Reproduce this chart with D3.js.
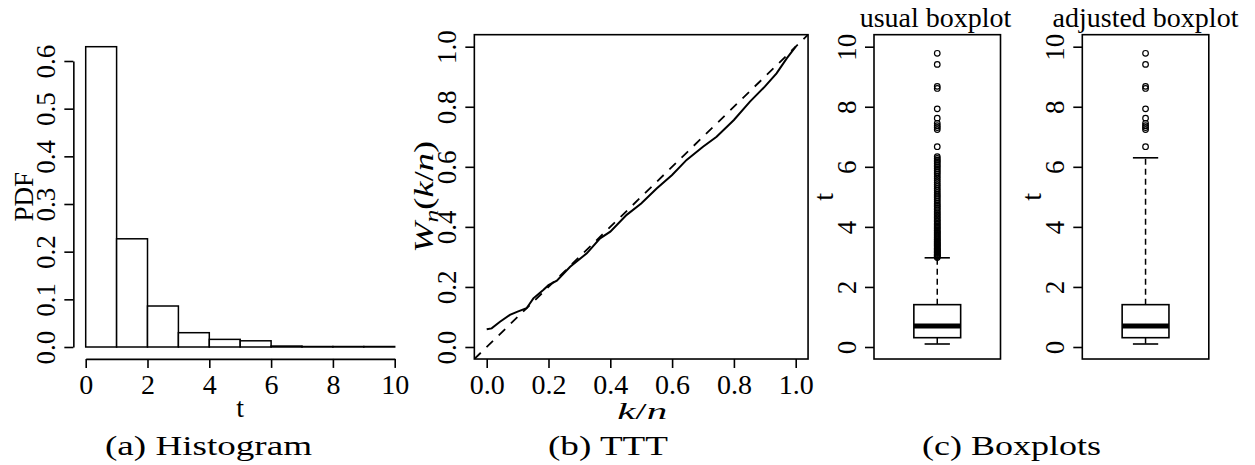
<!DOCTYPE html>
<html>
<head>
<meta charset="utf-8">
<script src="https://cdn.jsdelivr.net/npm/d3@7"></script>
<style>
body { margin: 0; background: #fff; }
</style>
</head>
<body>
<div id="chart"></div>
<script>
// (a) histogram
var hist_edges = [0, 1, 2, 3, 4, 5, 6, 7, 8, 9, 10];
var hist_density = [0.630, 0.227, 0.086, 0.030, 0.016, 0.013, 0.002, 0.001, 0.001, 0.001];
var hist_x_ticks = [0, 2, 4, 6, 8, 10];
var hist_y_ticks = [0.0, 0.1, 0.2, 0.3, 0.4, 0.5, 0.6];

// (b) TTT plot
var ttt_k = [0.000, 0.016, 0.043, 0.075, 0.100, 0.129, 0.151, 0.183, 0.200, 0.227, 0.270, 0.324, 0.367, 0.400,
             0.453, 0.500, 0.550, 0.600, 0.647, 0.700, 0.744, 0.800, 0.852, 0.900, 0.938, 0.971, 1.000];
var ttt_w = [0.059, 0.062, 0.084, 0.107, 0.118, 0.129, 0.162, 0.190, 0.206, 0.221, 0.267, 0.312, 0.362, 0.384,
             0.440, 0.478, 0.528, 0.573, 0.623, 0.667, 0.700, 0.756, 0.817, 0.867, 0.911, 0.961, 1.000];
var ttt_ticks = [0.0, 0.2, 0.4, 0.6, 0.8, 1.0];

// (c) boxplots
var box_titles = ["usual boxplot", "adjusted boxplot"];
var box_lower = [0.10, 0.10];
var box_q1 = [0.31, 0.31];
var box_median = [0.70, 0.70];
var box_q3 = [1.41, 1.41];
var box_upper = [2.97, 6.30];
var usual_outliers = [2.98, 3.01, 3.03, 3.06, 3.08, 3.11, 3.14, 3.16, 3.19, 3.22, 3.25, 3.27, 3.30, 3.34, 3.37,
  3.40, 3.43, 3.46, 3.50, 3.53, 3.57, 3.60, 3.64, 3.67, 3.71, 3.75, 3.79, 3.82, 3.86, 3.90, 3.95, 3.99, 4.03,
  4.08, 4.12, 4.17, 4.21, 4.26, 4.31, 4.36, 4.41, 4.46, 4.51, 4.57, 4.62, 4.68, 4.73, 4.79, 4.85, 4.91, 4.97,
  5.03, 5.09, 5.15, 5.22, 5.28, 5.35, 5.41, 5.48, 5.55, 5.62, 5.69, 5.76, 5.82, 5.88, 5.94, 6.00, 6.05, 6.11,
  6.17, 6.22, 6.28, 6.34, 6.67, 7.24, 7.31, 7.37, 7.45, 7.62, 7.93, 8.61, 8.68, 9.41, 9.78];
var adjusted_outliers = [6.67, 7.24, 7.31, 7.37, 7.45, 7.62, 7.93, 8.61, 8.68, 9.41, 9.78];
var box_y_ticks = [0, 2, 4, 6, 8, 10];

var captions = ["(a) Histogram", "(b) TTT", "(c) Boxplots"];

var serif = "'Liberation Serif', 'Times New Roman', Times, 'DejaVu Serif', serif";

var svg = d3.select("#chart").append("svg")
	.attr("width", 1255)
	.attr("height", 465);

var lw = 1.6;

// rotate y tick labels like R (parallel to the axis)
function rTicksLeft(g) {
	g.select(".domain").attr("stroke-width", lw);
	g.selectAll(".tick line").attr("stroke-width", lw);
	g.selectAll(".tick text")
		.attr("font-size", 27)
		.attr("x", 0).attr("y", -18).attr("dy", 0)
		.attr("text-anchor", "middle")
		.attr("transform", "rotate(-90)");
}
function rTicksBottom(g) {
	g.select(".domain").attr("stroke-width", lw);
	g.selectAll(".tick line").attr("stroke-width", lw);
	g.selectAll(".tick text")
		.attr("font-size", 28)
		.attr("y", 35).attr("dy", 0);
}

/* ---------- (a) histogram ---------- */
var hx = d3.scaleLinear().domain([0, 10]).range([85.7, 394.7]);
var hy = d3.scaleLinear().domain([0, 0.6]).range([347, 61]);

svg.append("g")
	.selectAll("rect")
	.data(hist_density)
	.enter()
	.append("rect")
	.attr("x", function(d, i) { return hx(hist_edges[i]); })
	.attr("width", function(d, i) { return hx(hist_edges[i + 1]) - hx(hist_edges[i]); })
	.attr("y", function(d) { return hy(d); })
	.attr("height", function(d) { return hy(0) - hy(d); })
	.attr("fill", "white")
	.attr("stroke", "black")
	.attr("stroke-width", 1.5);

svg.append("g")
	.attr("transform", "translate(0," + hy(-0.025) + ")")
	.call(d3.axisBottom(hx).tickValues(hist_x_ticks).tickSize(9).tickSizeOuter(0).tickFormat(d3.format("d")))
	.call(rTicksBottom);

svg.append("g")
	.attr("transform", "translate(" + hx(-0.4) + ",0)")
	.call(d3.axisLeft(hy).tickValues(hist_y_ticks).tickSize(9).tickSizeOuter(0).tickFormat(d3.format(".1f")))
	.call(rTicksLeft);

svg.append("text")
	.attr("x", hx(5)).attr("y", 417)
	.attr("text-anchor", "middle")
	.attr("font-size", 28)
	.text("t");

svg.append("text")
	.attr("transform", "translate(33," + hy(0.315) + ") rotate(-90)")
	.attr("text-anchor", "middle")
	.attr("font-size", 27)
	.text("PDF");

/* ---------- (b) TTT ---------- */
var tx = d3.scaleLinear().domain([0, 1]).range([486.7, 795.7]);
var ty = d3.scaleLinear().domain([0, 1]).range([347, 46.7]);

svg.append("defs").append("clipPath").attr("id", "ttt-clip")
	.append("rect")
	.attr("x", tx(-0.04)).attr("y", ty(1.04))
	.attr("width", tx(1.04) - tx(-0.04)).attr("height", ty(-0.04) - ty(1.04));

svg.append("line")
	.attr("clip-path", "url(#ttt-clip)")
	.attr("x1", tx(-0.04)).attr("y1", ty(-0.04))
	.attr("x2", tx(1.04)).attr("y2", ty(1.04))
	.attr("stroke", "black")
	.attr("stroke-width", 1.8)
	.attr("stroke-dasharray", "9,8");

var ttt_pts = ttt_k.map(function(k, i) { return [k, ttt_w[i]]; });
svg.append("path")
	.datum(ttt_pts)
	.attr("fill", "none")
	.attr("stroke", "black")
	.attr("stroke-width", 2)
	.attr("d", d3.line().x(function(d) { return tx(d[0]); }).y(function(d) { return ty(d[1]); }));

svg.append("rect")
	.attr("x", tx(-0.04)).attr("y", ty(1.04))
	.attr("width", tx(1.04) - tx(-0.04)).attr("height", ty(-0.04) - ty(1.04))
	.attr("fill", "none")
	.attr("stroke", "black")
	.attr("stroke-width", lw);

svg.append("g")
	.attr("transform", "translate(0," + ty(-0.04) + ")")
	.call(d3.axisBottom(tx).tickValues(ttt_ticks).tickSize(9).tickSizeOuter(0).tickFormat(d3.format(".1f")))
	.call(rTicksBottom)
	.call(function(g) { g.select(".domain").remove(); });

svg.append("g")
	.attr("transform", "translate(" + tx(-0.04) + ",0)")
	.call(d3.axisLeft(ty).tickValues(ttt_ticks).tickSize(9).tickSizeOuter(0).tickFormat(d3.format(".1f")))
	.call(rTicksLeft)
	.call(function(g) { g.select(".domain").remove(); });

var xl = svg.append("text")
	.attr("x", tx(0.5) + 1).attr("y", 419)
	.attr("text-anchor", "middle")
	.attr("font-size", 24)
	.attr("textLength", 50)
	.attr("lengthAdjust", "spacingAndGlyphs");
xl.append("tspan").attr("font-style", "italic").text("k");
xl.append("tspan").text("/");
xl.append("tspan").attr("font-style", "italic").text("n");

var yl = svg.append("text")
	.attr("transform", "translate(433," + ty(0.5) + ") rotate(-90)")
	.attr("text-anchor", "middle")
	.attr("font-size", 27)
	.attr("textLength", 112)
	.attr("lengthAdjust", "spacingAndGlyphs");
yl.append("tspan").attr("font-style", "italic").text("W");
yl.append("tspan").attr("font-style", "italic").attr("font-size", 19).attr("dy", 5).text("n");
yl.append("tspan").attr("dy", -5).text("(");
yl.append("tspan").attr("font-style", "italic").text("k");
yl.append("tspan").text("/");
yl.append("tspan").attr("font-style", "italic").text("n");
yl.append("tspan").text(")");

/* ---------- (c) boxplots ---------- */
var by = d3.scaleLinear().domain([0, 10]).range([347, 46.7]);
var panel_left = [874, 1082.3];
var panel_width = 126.5;
var outliers = [usual_outliers, adjusted_outliers];
var title_x = [935.5, 1145.5];

box_titles.forEach(function(title, p) {
	var bx = d3.scaleLinear().domain([0, 1]).range([panel_left[p], panel_left[p] + panel_width]);
	var g = svg.append("g");

	// whiskers
	g.append("line")
		.attr("x1", bx(0.5)).attr("x2", bx(0.5))
		.attr("y1", by(box_q3[p])).attr("y2", by(box_upper[p]))
		.attr("stroke", "black").attr("stroke-width", 1.5).attr("stroke-dasharray", "6,4");
	g.append("line")
		.attr("x1", bx(0.5)).attr("x2", bx(0.5))
		.attr("y1", by(box_q1[p])).attr("y2", by(box_lower[p]))
		.attr("stroke", "black").attr("stroke-width", 1.5).attr("stroke-dasharray", "6,4");
	[box_upper[p], box_lower[p]].forEach(function(v) {
		g.append("line")
			.attr("x1", bx(0.4)).attr("x2", bx(0.6))
			.attr("y1", by(v)).attr("y2", by(v))
			.attr("stroke", "black").attr("stroke-width", 1.6);
	});

	// box and median
	g.append("rect")
		.attr("x", bx(0.315)).attr("width", bx(0.685) - bx(0.315))
		.attr("y", by(box_q3[p])).attr("height", by(box_q1[p]) - by(box_q3[p]))
		.attr("fill", "white").attr("stroke", "black").attr("stroke-width", 1.6);
	g.append("line")
		.attr("x1", bx(0.315)).attr("x2", bx(0.685))
		.attr("y1", by(box_median[p])).attr("y2", by(box_median[p]))
		.attr("stroke", "black").attr("stroke-width", 5);

	// outliers
	g.selectAll("circle")
		.data(outliers[p])
		.enter()
		.append("circle")
		.attr("cx", bx(0.5))
		.attr("cy", function(d) { return by(d); })
		.attr("r", 2.8)
		.attr("fill", "none")
		.attr("stroke", "black")
		.attr("stroke-width", 1.2);

	// frame
	g.append("rect")
		.attr("x", bx(0)).attr("y", by(10.4))
		.attr("width", bx(1) - bx(0)).attr("height", by(-0.4) - by(10.4))
		.attr("fill", "none").attr("stroke", "black").attr("stroke-width", lw);

	g.append("g")
		.attr("transform", "translate(" + bx(0) + ",0)")
		.call(d3.axisLeft(by).tickValues(box_y_ticks).tickSize(9).tickSizeOuter(0).tickFormat(d3.format("d")))
		.call(rTicksLeft)
		.call(function(a) { a.select(".domain").remove(); });

	g.append("text")
		.attr("transform", "translate(" + (bx(0) - 41) + "," + by(5) + ") rotate(-90)")
		.attr("text-anchor", "middle")
		.attr("font-size", 28)
		.text("t");

	g.append("text")
		.attr("x", title_x[p]).attr("y", 27)
		.attr("text-anchor", "middle")
		.attr("font-size", 28)
		.text(title);
});

/* ---------- captions ---------- */
var caption_x = [208.5, 608, 1011.5];
var caption_len = [207, 120, 179];
svg.append("g")
	.selectAll("text")
	.data(captions)
	.enter()
	.append("text")
	.attr("x", function(d, i) { return caption_x[i]; })
	.attr("y", 455)
	.attr("text-anchor", "middle")
	.attr("font-size", 27)
	.attr("textLength", function(d, i) { return caption_len[i]; })
	.attr("lengthAdjust", "spacingAndGlyphs")
	.text(function(d) { return d; });

// every text in a Times-like serif, black
svg.selectAll("text")
	.style("font-family", serif)
	.attr("fill", "black");
</script>
</body>
</html>
